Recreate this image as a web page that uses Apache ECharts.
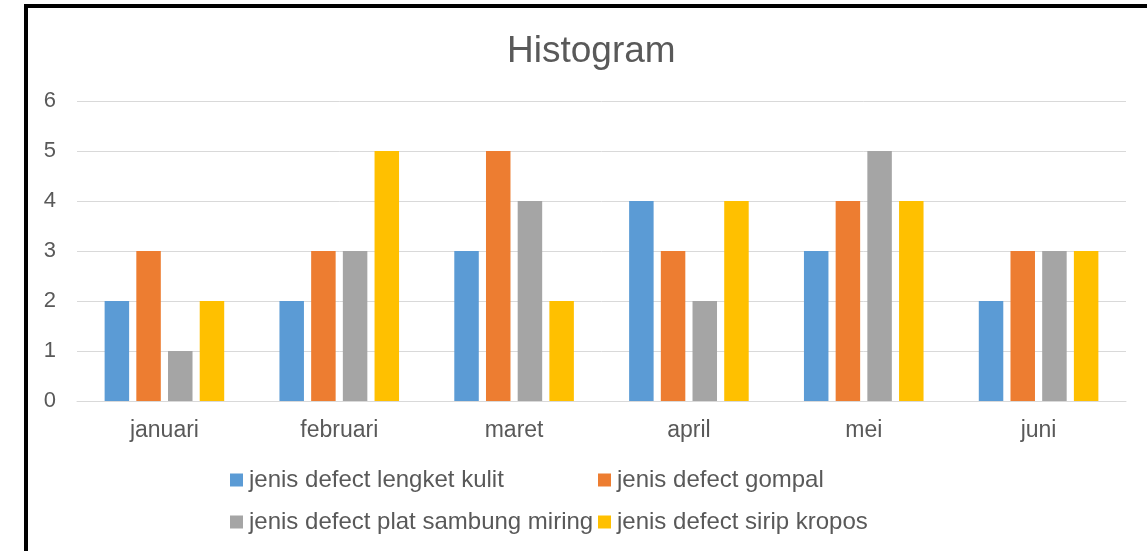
<!DOCTYPE html>
<html>
<head>
<meta charset="utf-8">
<script src="https://cdn.jsdelivr.net/npm/echarts@6/dist/echarts.min.js"></script>
<style>
  html, body { margin: 0; padding: 0; background: #fff; }
  #chart { width: 1147px; height: 551px; position: absolute; left: 0; top: 0; }
  #frame { position: absolute; left: 24px; top: 4px; width: 1200px; height: 600px;
           border-left: 4px solid #000; border-top: 4px solid #000; pointer-events: none; }
</style>
</head>
<body>
<div id="chart"></div>
<div id="frame"></div>
<script>
const categories = ['januari', 'februari', 'maret', 'april', 'mei', 'juni'];
const seriesNames = [
  'jenis defect lengket kulit',
  'jenis defect gompal',
  'jenis defect plat sambung miring',
  'jenis defect sirip kropos'
];
const lengketKulit = [2, 2, 3, 4, 3, 2];
const gompal = [3, 3, 5, 3, 4, 3];
const platSambungMiring = [1, 3, 4, 2, 5, 3];
const siripKropos = [2, 5, 2, 4, 4, 3];
const yTicks = [0, 1, 2, 3, 4, 5, 6];

const colors = ['#5B9BD5', '#ED7D31', '#A5A5A5', '#FFC000'];
const values = [lengketKulit, gompal, platSambungMiring, siripKropos];
const font = '"Liberation Sans", Arial, sans-serif';
const textColor = '#595959';

const legendPos = [[230, 468], [598, 468], [230, 510], [598, 510]];

const chart = echarts.init(document.getElementById('chart'), null, { renderer: 'canvas' });
chart.setOption({
  backgroundColor: '#fff',
  animation: false,
  color: colors,
  title: {
    text: 'Histogram',
    left: 502,
    top: 28,
    textStyle: { fontFamily: font, fontSize: 37, fontWeight: 'normal', color: textColor }
  },
  legend: seriesNames.map((n, i) => ({
    data: [n],
    left: legendPos[i][0],
    top: legendPos[i][1],
    orient: 'horizontal',
    itemWidth: 13,
    itemHeight: 13,
    itemGap: 0,
    icon: 'rect',
    padding: 0,
    textStyle: { fontFamily: font, fontSize: 24, color: textColor, padding: [0, 0, 0, 1] },
    selectedMode: false
  })),
  grid: { left: 77, right: 21, top: 101, bottom: 150, containLabel: false },
  xAxis: {
    type: 'category',
    data: categories,
    axisLine: { show: true, lineStyle: { color: '#D9D9D9', width: 1 } },
    axisTick: { show: false },
    axisLabel: { fontFamily: font, fontSize: 23, color: textColor, margin: 18 }
  },
  yAxis: {
    type: 'value',
    min: yTicks[0],
    max: yTicks[yTicks.length - 1],
    interval: 1,
    axisLine: { show: false },
    axisTick: { show: false },
    splitLine: { lineStyle: { color: '#D9D9D9', width: 1 } },
    axisLabel: { fontFamily: font, fontSize: 22, color: textColor, margin: 21 }
  },
  series: seriesNames.map((n, i) => ({
    name: n,
    type: 'bar',
    data: values[i],
    barGap: '29.4%',
    barCategoryGap: '31.6%',
    itemStyle: { color: colors[i] }
  }))
});
</script>
</body>
</html>
